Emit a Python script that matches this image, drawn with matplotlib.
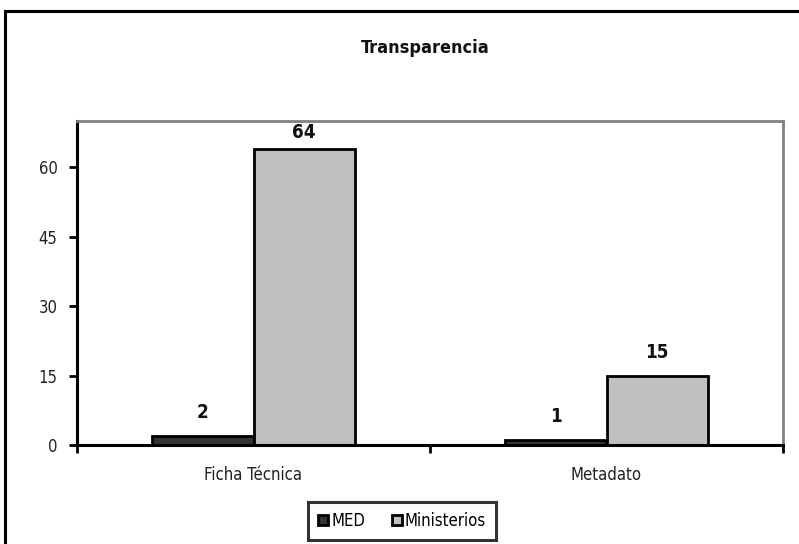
import numpy as np
import matplotlib.pyplot as plt
from matplotlib.patches import Rectangle

categories = ['Ficha Técnica', 'Metadato']
series = ['MED', 'Ministerios']
med = [2, 1]
ministerios = [64, 15]
colors = ['#333333', '#C0C0C0']
yticks = [0, 15, 30, 45, 60]

plt.rcParams['font.family'] = ['DejaVu Sans']
plt.rcParams['font.stretch'] = 'condensed'

W, H = 799, 544
fig = plt.figure(figsize=(W / 100, H / 100), dpi=100)

# outer chart frame
fig.patches.append(Rectangle((5 / W, -0.05), 1.1, (H - 11) / H + 0.05, transform=fig.transFigure,
                             fill=False, edgecolor='black', linewidth=2.2, zorder=0))

ax = fig.add_axes([77 / W, 1 - 445 / H, (783 - 77) / W, (445 - 121) / H])

x = np.arange(len(categories))
bw = 0.2875
b1 = ax.bar(x - bw / 2, med, bw, color=colors[0], edgecolor='black', linewidth=2, label=series[0])
b2 = ax.bar(x + bw / 2, ministerios, bw, color=colors[1], edgecolor='black', linewidth=2, label=series[1])

# labels stay inside the plot area, like excel does
for bars in (b1, b2):
    for r in bars:
        ax.text(r.get_x() + r.get_width() / 2, min(r.get_height() + 3, 65.5), str(int(r.get_height())),
                ha='center', va='bottom', fontsize=13.5, fontweight='bold', color='#111111')

ax.set_xlim(-0.5, 1.5)
ax.set_ylim(0, 70)
ax.set_yticks(yticks)
ax.set_yticklabels([str(t) for t in yticks], fontsize=12, color='#222222')
ax.tick_params(axis='y', direction='out', length=6, width=2, pad=8)

ax.set_xticks([-0.5, 0.5, 1.5])
ax.set_xticklabels([])
ax.set_xticks(x, minor=True)
ax.set_xticklabels(categories, minor=True, fontsize=12, color='#222222')
ax.tick_params(axis='x', which='major', direction='out', length=6, width=2)
ax.tick_params(axis='x', which='minor', length=0, pad=15)

ax.spines['left'].set_linewidth(2.2)
ax.spines['bottom'].set_linewidth(2.2)
ax.spines['top'].set_color('#808080')
ax.spines['right'].set_color('#808080')
ax.spines['top'].set_linewidth(2)
ax.spines['right'].set_linewidth(2)

fig.text(425 / W, 1 - 48 / H, 'Transparencia', ha='center', va='center', fontsize=13,
         fontweight='bold', color='#111111')

leg = fig.legend(handles=[b1, b2], labels=series, loc='center', bbox_to_anchor=(402 / W, 1 - 521 / H),
                 ncol=2, frameon=True, fancybox=False, edgecolor='black', fontsize=12,
                 handlelength=0.6, handleheight=0.6, handletextpad=0.2, columnspacing=1.6,
                 borderpad=0.6)
leg.get_frame().set_linewidth(2.2)

fig.savefig('out.png', dpi=100)
